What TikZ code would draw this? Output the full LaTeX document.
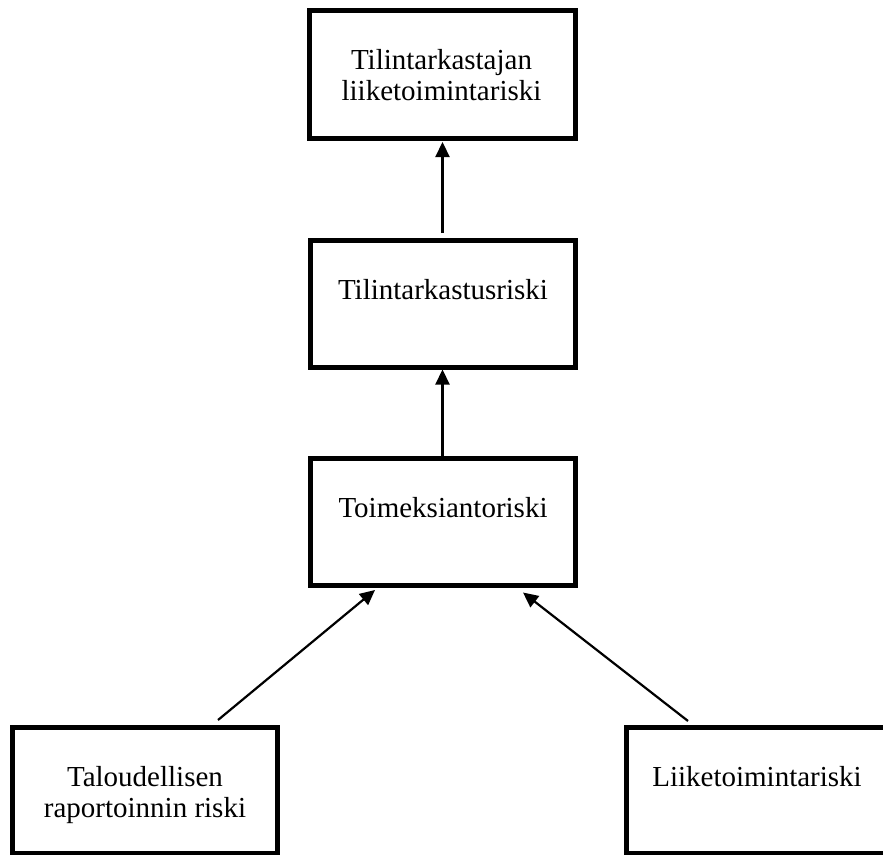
\documentclass[tikz,border=0pt]{standalone}
\usepackage{fontspec}
\setmainfont{Liberation Serif}
\usetikzlibrary{arrows.meta}
\begin{document}
\begin{tikzpicture}[x=1pt, y=-1pt, >={Triangle[length=15pt,width=14pt]},
  riskbox/.style={draw, line width=5pt, minimum width=265pt, minimum height=127pt, inner sep=0pt},
  risktext/.style={anchor=base, align=center, inner sep=0pt, font=\fontsize{29}{31}\selectfont},
  link/.style={->, line width=2.2pt}]
  \useasboundingbox (0,0) rectangle (883,854);
  % boxes
  \node[riskbox, minimum width=266pt, minimum height=128pt] (tlr) at (442.5,74) {};
  \node[riskbox] (tr) at (442.5,303.5) {};
  \node[riskbox] (tmr) at (442.5,521.5) {};
  \node[riskbox, minimum height=126pt] (trr) at (144.5,790) {};
  \node[riskbox, minimum width=262pt, minimum height=126pt] (lr) at (757,790) {};
  % texts (base = last line)
  \node[risktext] (tlrtxt) at (441.5,100) {Tilintarkastajan\\liiketoimintariski};
  \node[risktext] (trtxt) at (443,299) {Tilintarkastusriski};
  \node[risktext] (tmrtxt) at (443,517) {Toimeksiantoriski};
  \node[risktext] (trrtxt) at (145,817) {Taloudellisen\\raportoinnin riski};
  \node[risktext] (lrtxt) at (757,786) {Liiketoimintariski};
  % arrows
  \draw[link, shorten <=4.5pt, shorten >=1.5pt] (tr.north) -- (tlr.south);
  \draw[link] (tmr.north) -- (tr.south);
  \draw[link] ([xshift=73.5pt,yshift=4.5pt]trr.north) -- ([xshift=-67.5pt,yshift=-2.5pt]tmr.south);
  \draw[link] ([xshift=-69pt,yshift=3.5pt]lr.north) -- ([xshift=80.5pt,yshift=-5pt]tmr.south);
\end{tikzpicture}
\end{document}
